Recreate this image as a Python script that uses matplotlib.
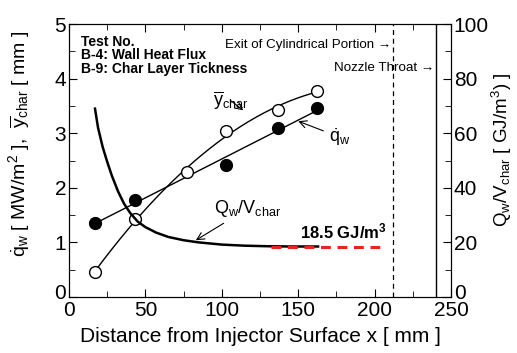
import numpy as np
import matplotlib
matplotlib.use("Agg")
import matplotlib.pyplot as plt
import matplotlib.transforms as mtransforms

plt.rcParams['font.family'] = ['Liberation Sans', 'DejaVu Sans']
plt.rcParams['mathtext.fontset'] = 'custom'
plt.rcParams['mathtext.rm'] = 'Liberation Sans'
plt.rcParams['mathtext.it'] = 'Liberation Sans:italic'
plt.rcParams['mathtext.bf'] = 'Liberation Sans:bold'

# Data
x_pts = [17, 43, 77, 103, 137, 162]
ychar = [0.46, 1.42, 2.29, 3.04, 3.43, 3.78]
qw_x = [17, 43, 103, 137, 162]
qw = [1.35, 1.78, 2.42, 3.09, 3.46]
qv_x = [17, 19, 22, 25, 28, 32, 36, 40, 45, 50, 57, 65, 75, 85, 100, 115, 130, 145, 163]
qv = [69, 62, 55, 49.5, 44.5, 38.8, 34.2, 30.8, 27.6, 25.6, 23.6, 22.0, 20.8, 20.0, 19.2, 18.8, 18.6, 18.5, 18.5]
ref_x = [132, 207]
ref_val = 18.5
x_exit = 212
x_throat = 240
info_lines = ['Test No.', 'B-4: Wall Heat Flux', 'B-9: Char Layer Tickness']

fig = plt.figure(figsize=(5.17, 3.53), dpi=100)
ax = fig.add_axes([0.1335, 0.1586, 0.7388, 0.7734])
ax.set_xlim(0, 250)
ax.set_ylim(0, 5)

# y_char curve (quadratic fit through open circles)
c = np.polyfit(x_pts, ychar, 2)
xs = np.linspace(x_pts[0], x_pts[-1], 200)
ax.plot(xs, np.polyval(c, xs), color='black', lw=1.0, zorder=2)
# q_w line (linear fit)
c2 = np.polyfit(qw_x, qw, 1)
xs2 = np.array([qw_x[0], qw_x[-1]])
ax.plot(xs2, np.polyval(c2, xs2), color='black', lw=1.0, zorder=2)

ax.plot(x_pts, ychar, 'o', ms=8.5, mfc='white', mec='black', mew=1.0, zorder=4)
ax.plot(qw_x, qw, 'o', ms=8.5, mfc='black', mec='black', zorder=4)

ax2 = ax.twinx()
ax2.set_ylim(0, 100)
ax2.plot(qv_x, qv, color='black', lw=1.8, zorder=3)
ax2.plot(ref_x, [ref_val, ref_val], color='#ee2020', lw=2.2, ls=(0, (3.2, 2.2)), zorder=4)

ax.axvline(x_exit, color='black', lw=0.9, ls=(0, (4, 3)))
ax.axvline(x_throat, color='black', lw=1.0)

fs = 15
ax.set_xticks([0, 50, 100, 150, 200, 250])
ax.set_xticks(np.arange(25, 250, 50), minor=True)
ax.set_yticks([0, 1, 2, 3, 4, 5])
ax.set_yticks(np.arange(0.5, 5, 1), minor=True)
ax2.set_yticks([0, 20, 40, 60, 80, 100])
ax2.set_yticks(np.arange(10, 100, 20), minor=True)
ax.tick_params(which='both', direction='in', top=True, right=False, labelsize=fs, pad=2)
ax.tick_params(which='major', length=6)
ax.tick_params(which='minor', length=4)
ax2.tick_params(which='both', direction='in', labelsize=fs, pad=2)
ax2.tick_params(which='major', length=6)
ax2.tick_params(which='minor', length=4)
ax.tick_params(axis='x', pad=3)

# nudge the zero labels upward a little, as in the reference
shift = mtransforms.ScaledTranslation(0, 4 / 72, fig.dpi_scale_trans)
for lab in (ax.get_yticklabels()[0], ax2.get_yticklabels()[0]):
    lab.set_transform(lab.get_transform() + shift)

ax.set_xlabel('Distance from Injector Surface x [ mm ]', fontsize=fs, labelpad=5)
ax.set_ylabel(r'$\dot{\mathrm{q}}_\mathrm{w}$ [ MW/m$^2$ ],  $\overline{\mathrm{y}}_\mathrm{char}$ [ mm ]',
              fontsize=14)
ax.yaxis.set_label_coords(-0.094, 0.56)
ax2.set_ylabel(r'Q$_\mathrm{w}$/V$_\mathrm{char}$ [ GJ/m$^3$) ]', fontsize=13.5)
ax2.yaxis.set_label_coords(1.103, 0.54)

for i, line in enumerate(info_lines):
    ax.text(8, 4.67 - 0.245 * i, line, fontsize=10, fontweight='bold', va='center', ha='left')
ax.text(x_exit - 1, 4.62, 'Exit of Cylindrical Portion \u2192', fontsize=9.6, ha='right', va='center')
ax.text(x_throat - 1, 4.2, 'Nozzle Throat \u2192', fontsize=9.6, ha='right', va='center')

ax.annotate(r'$\overline{\mathrm{y}}_\mathrm{char}$', xy=(114, 3.42), xytext=(94, 3.6),
            fontsize=13, ha='left', va='center',
            arrowprops=dict(arrowstyle='->', color='black', lw=0.8, shrinkA=0, shrinkB=0))
ax.annotate(r'$\dot{\mathrm{q}}_\mathrm{w}$', xy=(150, 3.22), xytext=(170, 2.93),
            fontsize=13, ha='left', va='center',
            arrowprops=dict(arrowstyle='->', color='black', lw=0.8, shrinkA=2, shrinkB=0))
ax.annotate(r'Q$_\mathrm{w}$/V$_\mathrm{char}$', xy=(83, 1.04), xytext=(95, 1.62),
            fontsize=13, ha='left', va='center',
            arrowprops=dict(arrowstyle='->', color='black', lw=0.8, shrinkA=2, shrinkB=0))
ax.text(151, 1.2, r'18.5 GJ/m$^\mathbf{3}$', fontsize=12, fontweight='bold', ha='left', va='center')

fig.savefig('out.png', dpi=100)
